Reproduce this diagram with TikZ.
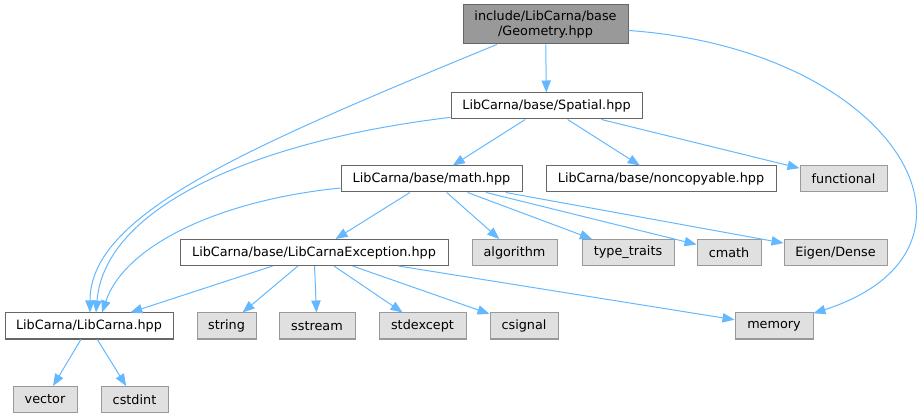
\documentclass[tikz,border=0pt]{standalone}
\usepackage{fontspec}
\setmainfont{DejaVu Sans}
\usetikzlibrary{arrows.meta}
\definecolor{edgeblue}{HTML}{63B8FF}
\definecolor{boxline}{HTML}{666666}
\definecolor{extline}{HTML}{999999}
\definecolor{extfill}{HTML}{E0E0E0}
\definecolor{curfill}{HTML}{999999}
\begin{document}
\begin{tikzpicture}[x=0.75pt,y=-0.75pt,
    hdr/.style={draw=boxline,fill=white,line width=0.75pt,minimum height=19.5pt,
      inner sep=0pt,font=\fontsize{9.6}{11.25}\selectfont},
    sys/.style={hdr,draw=extline,fill=extfill},
    cur/.style={hdr,fill=curfill,minimum height=29.25pt,align=center},
    wd/.style={minimum width=#1*0.75pt}]
  \useasboundingbox (0,0) rectangle (922,417);
  \draw
    (545.5,24.5) node[cur,wd=165] (geometry){include/LibCarna/base\\/Geometry.hpp}
    (546.5,106) node[hdr,wd=191] (spatial){LibCarna/base/Spatial.hpp}
    (431.5,179) node[hdr,wd=181] (math){LibCarna/base/math.hpp}
    (661,179) node[hdr,wd=230] (noncopyable){LibCarna/base/noncopyable.hpp}
    (843.5,179) node[sys,wd=87] (functional){functional}
    (314,252.5) node[hdr,wd=268] (exception){LibCarna/base/LibCarnaException.hpp}
    (514.5,252.5) node[sys,wd=85] (algorithm){algorithm}
    (628,252.5) node[sys,wd=92] (typetraits){type\_traits}
    (729,252.5) node[sys,wd=64] (cmath){cmath}
    (835.5,252.5) node[sys,wd=103] (eigen){Eigen/Dense}
    (89,326) node[hdr,wd=168] (libcarna){LibCarna/LibCarna.hpp}
    (226.5,326) node[sys,wd=59] (string){string}
    (317,326) node[sys,wd=76] (sstream){sstream}
    (422.5,326) node[sys,wd=87] (stdexcept){stdexcept}
    (524,326) node[sys,wd=68] (csignal){csignal}
    (774,326) node[sys,wd=78] (memory){memory}
    (45,399.5) node[sys,wd=64] (vector){vector}
    (134.5,399.5) node[sys,wd=67] (cstdint){cstdint};
  \begin{scope}[-{Triangle[length=9pt,width=7pt]},draw=edgeblue,line width=0.75pt]
    \draw (geometry) to (spatial);
    \draw (geometry) .. controls (240,150) and (90,215) .. ([xshift=0.75pt]libcarna.north);
    \draw (geometry) .. controls (900,50) and (1010,250) .. (memory);
    \draw (spatial) .. controls (260,140) and (105,205) .. ([xshift=5.25pt]libcarna.north);
    \draw (spatial) to (math);
    \draw (spatial) to (noncopyable);
    \draw (spatial) to (functional);
    \draw (math) .. controls (220,200) and (125,245) .. ([xshift=9.75pt]libcarna.north);
    \draw (math) to (exception);
    \draw (math) to (algorithm);
    \draw (math) to (typetraits);
    \draw (math) to (cmath);
    \draw (math) to (eigen);
    \draw (exception) to (libcarna);
    \draw (exception) to (string);
    \draw (exception) to (sstream);
    \draw (exception) to (stdexcept);
    \draw (exception) to (csignal);
    \draw (exception) to (memory);
    \draw (libcarna) to (vector);
    \draw (libcarna) to (cstdint);
  \end{scope}
\end{tikzpicture}
\end{document}
